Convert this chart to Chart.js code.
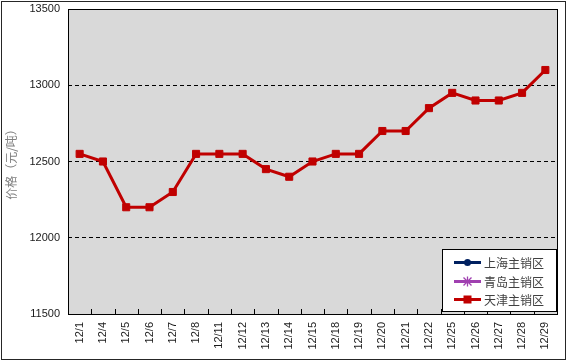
<!DOCTYPE html>
<html>
<head>
<meta charset="utf-8">
<script src="https://cdn.jsdelivr.net/npm/chart.js@4/dist/chart.umd.min.js"></script>
<style>
html,body{margin:0;padding:0;background:#fff;}
canvas{display:block;}
</style>
</head>
<body>
<canvas id="c" width="567" height="361"></canvas>
<script>
const categories = ['12/1','12/4','12/5','12/6','12/7','12/8','12/11','12/12','12/13','12/14','12/15','12/18','12/19','12/20','12/21','12/22','12/25','12/26','12/27','12/28','12/29'];
const seriesNames = ['上海主销区','青岛主销区','天津主销区'];
const shanghai = [];
const qingdao = [];
const tianjin = [12550,12500,12200,12200,12300,12550,12550,12550,12450,12400,12500,12550,12550,12700,12700,12850,12950,12900,12900,12950,13100];
const yTicks = [11500,12000,12500,13000,13500];
const yTitle = '价格（元/吨）';

const FONT = "'Liberation Sans', Arial, 'Noto Sans CJK SC', sans-serif";
const CJK = "'Noto Sans CJK SC', 'Liberation Sans', sans-serif";

const framePlugin = {
  id: 'frame',
  beforeDraw(chart) {
    const {ctx, chartArea: a} = chart;
    ctx.save();
    ctx.fillStyle = '#ffffff';
    ctx.fillRect(0, 0, chart.width, chart.height);
    ctx.fillStyle = '#d9d9d9';
    ctx.fillRect(a.left, a.top, a.right - a.left, a.bottom - a.top);
    ctx.strokeStyle = '#262626';
    ctx.lineWidth = 1;
    ctx.strokeRect(1.5, 1.5, chart.width - 3, chart.height - 3);
    ctx.restore();
  },
  afterDatasetsDraw(chart) {
    const {ctx, chartArea: a, scales} = chart;
    const xs = scales.x;
    const n = categories.length;
    ctx.save();
    ctx.strokeStyle = '#000';
    ctx.lineWidth = 1;
    ctx.beginPath();
    for (let i = 1; i < n; i++) {
      const x = Math.round(xs.getPixelForValue(i - 0.5)) + 0.5;
      ctx.moveTo(x, a.bottom - 5);
      ctx.lineTo(x, a.bottom);
    }
    ctx.stroke();
    ctx.strokeRect(Math.round(a.left) + 0.5, Math.round(a.top) + 0.5, Math.round(a.right - a.left), Math.round(a.bottom - a.top));
    ctx.restore();
  },
  afterDraw(chart) {
    const {ctx, chartArea: a} = chart;
    const boxW = 114, boxH = 62;
    const x0 = Math.round(a.right) - 115, y0 = Math.round(a.bottom) - 65;
    ctx.save();
    ctx.fillStyle = '#fff';
    ctx.fillRect(x0, y0, boxW, boxH);
    ctx.strokeStyle = '#000';
    ctx.lineWidth = 1;
    ctx.strokeRect(x0 + 0.5, y0 + 0.5, boxW, boxH);
    chart.data.datasets.forEach((ds, i) => {
      const cy = Math.round(y0 + 13 + i * 18.7) + 0.5;
      const mx = x0 + 25.5;
      ctx.strokeStyle = ds.borderColor;
      ctx.fillStyle = ds.borderColor;
      ctx.lineWidth = 3;
      ctx.beginPath();
      ctx.moveTo(x0 + 12, cy);
      ctx.lineTo(x0 + 39, cy);
      ctx.stroke();
      ctx.beginPath();
      if (ds.pointStyle === 'circle') {
        ctx.arc(mx, cy, 3.5, 0, Math.PI * 2);
        ctx.fill();
      } else if (ds.pointStyle === 'rect') {
        ctx.fillRect(mx - 4, cy - 4, 8, 8);
      } else {
        ctx.lineWidth = 1.3;
        const r = 4;
        ctx.moveTo(mx - r, cy - r); ctx.lineTo(mx + r, cy + r);
        ctx.moveTo(mx + r, cy - r); ctx.lineTo(mx - r, cy + r);
        ctx.moveTo(mx, cy - r - 1); ctx.lineTo(mx, cy + r + 1);
        ctx.stroke();
      }
      ctx.fillStyle = '#404040';
      ctx.font = "12px " + CJK;
      ctx.textBaseline = 'middle';
      ctx.textAlign = 'left';
      ctx.fillText(ds.label, x0 + 42, cy + 1);
    });
    ctx.restore();
  }
};

new Chart(document.getElementById('c'), {
  type: 'line',
  data: {
    labels: categories,
    datasets: [
      {label: seriesNames[0], data: shanghai, borderColor: '#002060', backgroundColor: '#002060', pointStyle: 'circle', borderWidth: 3},
      {label: seriesNames[1], data: qingdao, borderColor: '#a040b0', backgroundColor: '#a040b0', pointStyle: 'star', borderWidth: 3},
      {label: seriesNames[2], data: tianjin, borderColor: '#c00000', backgroundColor: '#c00000', pointStyle: 'rect',
       borderWidth: 3, pointRadius: 5, pointHoverRadius: 5, pointBorderWidth: 1, pointBackgroundColor: '#c00000', pointBorderColor: '#c00000', tension: 0}
    ]
  },
  options: {
    responsive: false,
    animation: false,
    devicePixelRatio: 1,
    layout: {autoPadding: false, padding: {top: 9, right: 10, left: 0, bottom: 0}},
    plugins: {legend: {display: false}, tooltip: {enabled: false}},
    scales: {
      x: {
        type: 'category',
        offset: true,
        grid: {display: false, drawTicks: false},
        border: {display: false},
        ticks: {minRotation: 90, maxRotation: 90, autoSkip: false, padding: 8, color: '#1a1a1a', font: {family: FONT, size: 11}},
        afterFit(s) { s.height = 47; s.paddingLeft = 0; s.paddingRight = 0; }
      },
      y: {
        min: 11500, max: 13500,
        afterBuildTicks(s) { s.ticks = yTicks.map(v => ({value: v})); },
        grid: {
          drawTicks: false,
          color: (c) => (c.tick && (c.tick.value === 11500 || c.tick.value === 13500)) ? 'rgba(0,0,0,0)' : '#000',
          lineWidth: 1
        },
        border: {display: false, dash: [4, 3]},
        ticks: {padding: 8, color: '#1a1a1a', font: {family: FONT, size: 11}, callback: (v) => String(v)},
        title: {display: true, text: yTitle, color: '#808080', font: {family: CJK, size: 12}, padding: {top: 4, bottom: 0}},
        afterFit(s) { s.width = 68; s.paddingTop = 0; s.paddingBottom = 0; }
      }
    }
  },
  plugins: [framePlugin]
});
</script>
</body>
</html>
